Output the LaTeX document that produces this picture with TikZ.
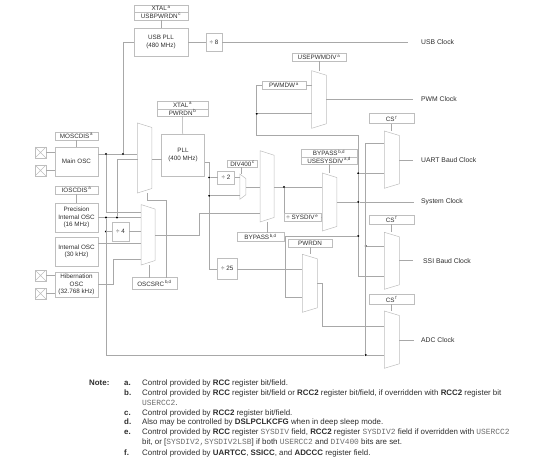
\documentclass[tikz,border=0pt]{standalone}
\usepackage{fontspec}
\setmainfont{Liberation Sans}
\setmonofont{Liberation Mono}
\usepackage{xcolor}
\usetikzlibrary{positioning}
\definecolor{wiregray}{RGB}{168,168,168}
\definecolor{boxgray}{RGB}{190,190,190}
\definecolor{textgray}{RGB}{45,45,45}
\definecolor{monogray}{RGB}{110,110,110}
\newcommand{\smark}[1]{\textsuperscript{\,#1}}
\newcommand{\regname}[1]{{\fontsize{7.9}{9}\selectfont\ttfamily\color{monogray}#1}}
% mux: name, x centre, top, bottom, width
\newcommand{\muxblock}[5]{%
  \node[muxbody, minimum width=#5pt, minimum height=#4pt-#3pt] (#1) at (#2,{(#3+#4)/2}) {};
  \draw[muxline] (#1.north west) -- ([yshift=-4.5pt]#1.north east)
    -- ([yshift=4.5pt]#1.south east) -- (#1.south west) -- cycle;
}
\begin{document}
\begin{tikzpicture}[
  x=1pt, y=-1pt,
  box/.style={draw=boxgray, align=center, inner sep=0pt, outer sep=0pt, text=textgray,
    font=\fontsize{6.3}{7.6}\selectfont},
  size/.style 2 args={minimum width=#1pt, minimum height=#2pt},
  muxbody/.style={inner sep=0pt, outer sep=0pt},
  muxline/.style={draw=boxgray, line width=0.5pt},
  pad/.style={draw=boxgray, minimum size=11pt, inner sep=0pt, outer sep=0pt,
    path picture={\draw[boxgray] (path picture bounding box.south west) -- (path picture bounding box.north east)
      (path picture bounding box.north west) -- (path picture bounding box.south east);}},
  wire/.style={draw=wiregray, line width=0.5pt},
  jn/.style={circle, fill=black, inner sep=0pt, minimum size=2.3pt},
  clocklabel/.style={anchor=west, inner sep=0pt, text=textgray, font=\fontsize{6.8}{8}\selectfont},
  note/.style={anchor=base west, inner sep=0pt, text=textgray, font=\fontsize{7.9}{9}\selectfont},
  notehead/.style={note, font=\fontsize{7.9}{9}\selectfont\bfseries}
]
  \useasboundingbox (0,0) rectangle (540,470);
  % usb branch
  \node[box, size={54}{7.5}] (xtalusb) at (161,8.5) {XTAL\smark{a}};
  \node[box, size={54}{7.5}, below=0pt of xtalusb] (usbpwrdn) {USBPWRDN\smark{c}};
  \node[box, size={54}{28}] (usbpll) at (161,42) {USB PLL\\(480 MHz)};
  \node[box, size={16}{18}] (div8) at (214,42) {÷ 8};
  \node[clocklabel] (usbclk) at (421,42) {USB Clock};
  \coordinate (usbend) at (408,42);
  % oscillators
  \node[box, size={43}{8}] (moscdis) at (76.5,136) {MOSCDIS\smark{a}};
  \node[box, size={43}{29}] (mainosc) at (76.5,161.5) {Main OSC};
  \node[pad] (xa) at (40.5,152.5) {};
  \node[pad] (xb) at (40.5,170.5) {};
  \node[box, size={43}{8}] (ioscdis) at (76.5,190) {IOSCDIS\smark{a}};
  \node[box, size={43}{29}] (piosc) at (76.5,217.5) {Precision\\Internal OSC\\(16 MHz)};
  \node[box, size={43}{29}] (iosc) at (76.5,251.5) {Internal OSC\\(30 kHz)};
  \node[box, size={43}{25}] (hibosc) at (76.5,284.5) {Hibernation\\OSC\\(32.768 kHz)};
  \node[pad] (xc) at (40.5,275.5) {};
  \node[pad] (xd) at (40.5,293.5) {};
  \node[box, size={17}{19}] (div4) at (120.5,231.5) {÷ 4};
  \node[box, size={45}{11.5}] (oscsrc) at (154.5,283.3) {OSCSRC\smark{b,d}};
  % pll
  \node[box, size={51}{7.5}] (xtalpll) at (182.5,105) {XTAL\smark{a}};
  \node[box, size={51}{7.5}, below=0pt of xtalpll] (pwrdnb) {PWRDN\smark{b}};
  \node[box, size={43}{42}] (pll) at (183,155) {PLL\\(400 MHz)};
  \node[box, size={17}{13}] (div2) at (226,177.5) {÷ 2};
  \node[box, size={30}{7.5}] (div400) at (242.5,163.8) {DIV400\smark{c}};
  \node[box, size={47.5}{8.5}] (bypassa) at (260.5,236.8) {BYPASS\smark{b,d}};
  \node[box, size={20}{21}] (div25) at (227.3,268.8) {÷ 25};
  \node[box, size={37}{8}] (sysdiv) at (302.3,217.5) {÷ SYSDIV\smark{e}};
  \node[box, size={55.5}{7.5}] (bypassb) at (329,153) {BYPASS\smark{b,d}};
  \node[box, size={55.5}{7.5}, below=0pt of bypassb] (usesysdiv) {USESYSDIV\smark{a,d}};
  \node[box, size={43.5}{7.5}] (pwrdn) at (310,243) {PWRDN};
  % pwm
  \node[box, size={53.5}{7.7}] (usepwm) at (319,57.2) {USEPWMDIV\smark{a}};
  \node[box, size={44}{7.7}] (pwmdw) at (284,85.5) {PWMDW\smark{a}};
  \node[clocklabel] (pwmclk) at (421,99.3) {PWM Clock};
  \coordinate (pwmend) at (413,99.3);
  % output clocks
  \node[box, size={44.4}{10}] (csa) at (391.5,118.7) {CS\smark{f}};
  \node[box, size={44.4}{9}] (csb) at (391.5,219.5) {CS\smark{f}};
  \node[box, size={44.4}{9.7}] (csc) at (391.5,299.2) {CS\smark{f}};
  \node[clocklabel] (uartclk) at (421,160) {UART Baud Clock};
  \node[clocklabel] (sysclk) at (421,202) {System Clock};
  \node[clocklabel] (ssiclk) at (423,260.7) {SSI Baud Clock};
  \node[clocklabel] (adcclk) at (421,340.5) {ADC Clock};
  \coordinate (uartend) at (413,160);
  \coordinate (sysend) at (414,202);
  \coordinate (ssiend) at (413,260.7);
  \coordinate (adcend) at (414,340.5);
  % muxes
  \muxblock{muxa}{144.7}{123}{193}{14.5}
  \muxblock{muxb}{148.2}{204.6}{265}{14}
  \muxblock{muxc}{242.8}{174}{199.3}{6}
  \muxblock{muxd}{267}{150.7}{222}{14}
  \muxblock{muxe}{329.5}{173}{231}{14.5}
  \muxblock{muxf}{319}{70.7}{128.3}{14.6}
  \muxblock{muxg}{391.8}{131}{188.3}{15}
  \muxblock{muxh}{391.8}{232.3}{289.3}{15}
  \muxblock{muxi}{309.8}{254.3}{312.3}{15}
  \muxblock{muxj}{391.8}{311}{368.3}{15}
  % junctions
  \node[jn] (jmain) at (106,154) {};
  \node[jn] (jusb) at (123,154) {};
  \node[jn] (jprec) at (106,217.5) {};
  \node[jn] (jpiosc) at (117,217.5) {};
  \node[jn] (jdiv4) at (106,231.5) {};
  \node[jn] (jpll) at (209.3,177.5) {};
  \node[jn] (jpllb) at (209.3,195.7) {};
  \node[jn] (jbyp) at (284,187) {};
  \node[jn] (jsys) at (358.3,202) {};
  \node[jn] (jpwm) at (256.7,113.7) {};
  \node[jn] (juart) at (358.3,173.3) {};
  \node[jn] (jpwr) at (358.3,236) {};
  \node[jn] (jssi) at (365.7,246) {};
  \node[jn] (jadc) at (365.7,355) {};
  % pads and controls
  \draw[wire] (xa.east) -- (xa.east -| mainosc.west);
  \draw[wire] (xb.east) -- (xb.east -| mainosc.west);
  \draw[wire] (xc.east) -- (xc.east -| hibosc.west);
  \draw[wire] (xd.east) -- (xd.east -| hibosc.west);
  \draw[wire] (moscdis) -- (mainosc);
  \draw[wire] (ioscdis) -- (piosc);
  \draw[wire] (usbpwrdn) -- (usbpll);
  \draw[wire] (pwrdnb) -- (pll);
  \draw[wire] (usepwm.south) -- (usepwm.south |- muxf.north);
  \draw[wire] (149,277.5) -- (149,265);
  \draw[wire] (csa) -- (csa.south |- muxg.north);
  \draw[wire] (csb) -- (csb.south |- muxh.north);
  \draw[wire] (csc) -- (csc.south |- muxj.north);
  \draw[wire] (241,167.5) -- (241,174);
  \draw[wire] (267,222) -- (267,233);
  \draw[wire] (usesysdiv.south) -- (usesysdiv.south |- muxe.north);
  \draw[wire] (pwrdn.south) -- (pwrdn.south |- muxi.north);
  % usb clock
  \draw[wire] (jusb) |- (usbpll.west);
  \draw[wire] (usbpll) -- (div8);
  \draw[wire] (div8) -- (usbend);
  % source selection
  \draw[wire] (mainosc.east |- jmain) -- (jmain) -- (jusb) -- (jusb -| muxa.west);
  \draw[wire] (jmain) |- (141,212.5);
  \draw[wire] (jpiosc) |- (137.5,159);
  \draw[wire] (piosc.east) -- (jprec) -- (jpiosc) -- (jpiosc -| muxb.west);
  \draw[wire] (jprec) -- (jdiv4) -- (div4);
  \draw[wire] (div4) -- (div4 -| muxb.west);
  \draw[wire] (98,243.5) -- (141,243.5);
  \draw[wire] (hibosc.east) -| (113,259) -- (141,259);
  \draw[wire] (147,193) |- (166,200) -- (166,277.5);
  \draw[wire] (155,235) -| (199,213.3) -- (260,213.3);
  \draw[wire] (152,159) -- (161.5,159);
  % pll outputs
  \draw[wire] (204.5,162.3) -| (jpll);
  \draw[wire] (jpll) -- (jpllb);
  \draw[wire] (jpll) -- (div2);
  \draw[wire] (div2.east) -- (240,177.5);
  \draw[wire] (jpllb) -- (240,195.7);
  \draw[wire] (jpllb) |- (div25.west);
  \draw[wire] (246,187) -- (260,187);
  % system clock
  \draw[wire] (274,187) -- (jbyp) -- (322.3,187);
  \draw[wire] (jbyp) -- (284,213.5);
  \draw[wire] (sysdiv.east) -- (322.3,217.5);
  \draw[wire] (336.8,202) -- (jsys) -- (sysend);
  % feedback and pwm
  \draw[wire] (jpwr) -- (jsys);
  \draw[wire] (jsys) -- (juart);
  \draw[wire] (juart) |- (256.7,135) -- (jpwm);
  \draw[wire] (jpwm) |- (pwmdw.west);
  \draw[wire] (pwmdw.east) -- (pwmdw.east -| muxf.west);
  \draw[wire] (jpwm) -- (jpwm -| muxf.west);
  \draw[wire] (326.4,99.3) -- (pwmend);
  % uart, ssi, adc
  \draw[wire] (jadc) |- (384.3,143.3);
  \draw[wire] (juart) -- (juart -| muxg.west);
  \draw[wire] (399.3,160) -- (uartend);
  \draw[wire] (jssi) -- (jssi -| muxh.west);
  \draw[wire] (jpwr) |- (384.3,276.7);
  \draw[wire] (399.3,260.7) -- (ssiend);
  \draw[wire] (jpwr) -| (285.7,297.3) -- (302.3,297.3);
  \draw[wire] (div25.east) -- (div25.east -| muxi.west);
  \draw[wire] (317.3,283.3) -| (322.3,326) -- (384.3,326);
  \draw[wire] (jprec) |- (jadc);
  \draw[wire] (jadc) -- (jadc -| muxj.west);
  \draw[wire] (399.3,340.5) -- (adcend);
  % notes
  \node[notehead] (notetitle) at (89,385.3) {Note:};
  \node[notehead] (la) at (124,385.3) {a.};
  \node[note] (ta) at (142,385.3) {Control provided by \textbf{RCC} register bit/field.};
  \node[notehead] (lb) at (124,395.3) {b.};
  \node[note] (tb) at (142,395.3) {Control provided by \textbf{RCC} register bit/field or \textbf{RCC2} register bit/field, if overridden with \textbf{RCC2} register bit};
  \node[note] (tbb) at (142,405) {\regname{USERCC2}.};
  \node[notehead] (lc) at (124,415) {c.};
  \node[note] (tc) at (142,415) {Control provided by \textbf{RCC2} register bit/field.};
  \node[notehead] (ld) at (124,424.7) {d.};
  \node[note] (td) at (142,424.7) {Also may be controlled by \textbf{DSLPCLKCFG} when in deep sleep mode.};
  \node[notehead] (le) at (124,434.7) {e.};
  \node[note] (te) at (142,434.7) {Control provided by \textbf{RCC} register \regname{SYSDIV} field, \textbf{RCC2} register \regname{SYSDIV2} field if overridden with \regname{USERCC2}};
  \node[note] (tee) at (142,444.7) {bit, or [\regname{SYSDIV2,SYSDIV2LSB}] if both \regname{USERCC2} and \regname{DIV400} bits are set.};
  \node[notehead] (lf) at (124,455) {f.};
  \node[note] (tf) at (142,455) {Control provided by \textbf{UARTCC}, \textbf{SSICC}, and \textbf{ADCCC} register field.};
\end{tikzpicture}
\end{document}
